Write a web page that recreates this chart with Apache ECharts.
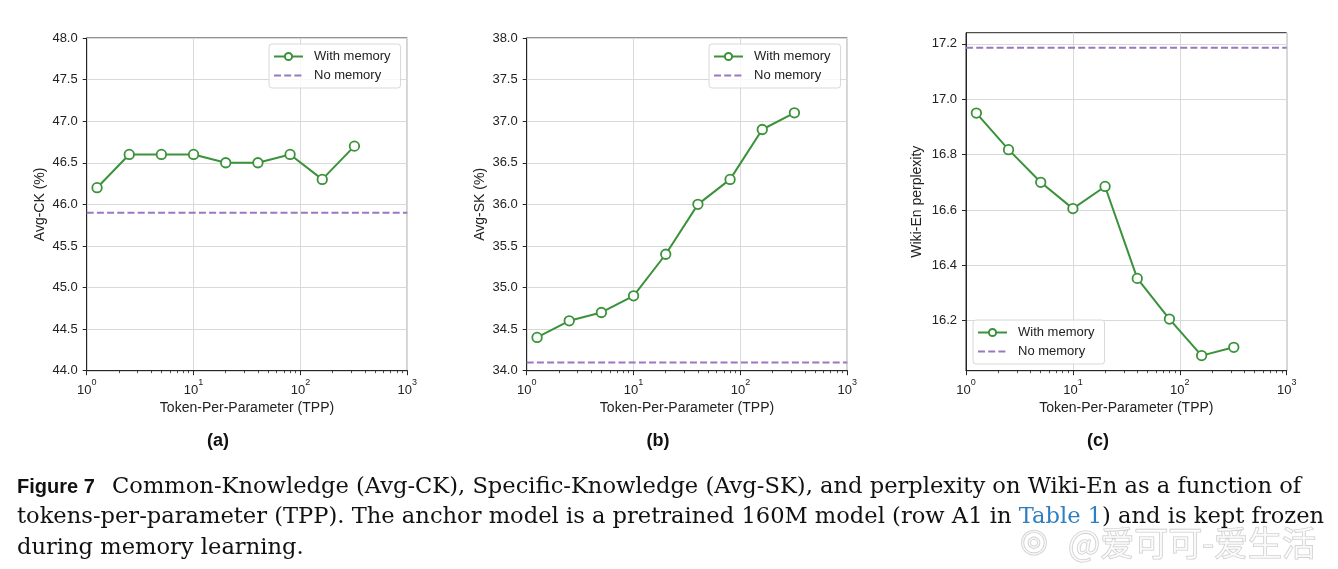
<!DOCTYPE html>
<html>
<head>
<meta charset="utf-8">
<script src="https://cdn.jsdelivr.net/npm/echarts@6/dist/echarts.min.js"></script>
<style>
html,body{margin:0;padding:0;background:#fff;}
#main{width:1338px;height:569px;}
</style>
</head>
<body>
<div id="main"></div>
<script>
// ---- data ----
const tpp = [1.25, 2.5, 5, 10, 20, 40, 80, 160, 320];
const avgCK = [46.2, 46.6, 46.6, 46.6, 46.5, 46.5, 46.6, 46.3, 46.7];
const avgSK = [34.4, 34.6, 34.7, 34.9, 35.4, 36.0, 36.3, 36.9, 37.1];
const wikiPpl = [16.95, 16.818, 16.70, 16.605, 16.685, 16.353, 16.206, 16.074, 16.104];
const noMemory = [45.9, 34.1, 17.186];
const xRange = [1, 1000];
const yRanges = [[44, 48], [34, 38], [16.0195, 17.2405]];
const yTicksPpl = [16.2, 16.4, 16.6, 16.8, 17.0, 17.2];
const minorMult = [2, 3, 4, 5, 6, 7, 8, 9];
const decades = [1, 10, 100];
const yNames = ['Avg-CK (%)', 'Avg-SK (%)', 'Wiki-En perplexity'];
const panelLabels = ['(a)', '(b)', '(c)'];
const seriesNames = ['With memory', 'No memory'];

const panels = [avgCK, avgSK, wikiPpl];

const GREEN = '#3a923a';
const PURPLE = '#9a78c0';
const INK = '#262626';
const FONT = 'Liberation Sans';

const grids = [
  {left: 86.7, top: 38, width: 320.6, height: 332.7},
  {left: 526.7, top: 38, width: 320.6, height: 332.7},
  {left: 966, top: 32.7, width: 320.7, height: 338}
];
const labelX = [218, 658, 1098];
const legendPos = [[269, 44], [709, 44], [973, 320]];

const minorTicks = [];
decades.forEach(d => minorMult.forEach(m => minorTicks.push(Math.log10(m * d))));

const option = {
  animation: false,
  backgroundColor: '#fff',
  grid: grids.map(g => Object.assign({show: true, borderColor: INK, borderWidth: 1, backgroundColor: 'transparent'}, g)),
  xAxis: [],
  yAxis: [],
  legend: [],
  series: [],
  graphic: []
};

for (let i = 0; i < 3; i++) {
  option.xAxis.push({
    type: 'log', logBase: 10, gridIndex: i, position: 'bottom',
    min: xRange[0], max: xRange[1],
    name: 'Token-Per-Parameter (TPP)', nameLocation: 'middle', nameGap: 30,
    nameTextStyle: {fontFamily: FONT, fontSize: 14, color: '#222'},
    axisLine: {show: true, onZero: false, lineStyle: {color: INK, width: 1}},
    axisTick: {show: true, inside: false, length: 4.5, lineStyle: {color: INK, width: 1}},
    splitLine: {show: true, lineStyle: {color: '#d9d9d9', width: 1}},
    axisLabel: {
      margin: 7,
      formatter: v => '{b|10}{s|' + Math.round(Math.log10(v)) + '}',
      rich: {
        b: {fontFamily: FONT, fontSize: 13, color: '#222', lineHeight: 19, verticalAlign: 'bottom'},
        s: {fontFamily: FONT, fontSize: 9, color: '#222', lineHeight: 9, verticalAlign: 'top'}
      }
    }
  });
  // minor ticks axis (decorative)
  option.xAxis.push({
    type: 'value', gridIndex: i, position: 'bottom', min: 0, max: 3,
    axisLine: {show: false, onZero: false},
    axisLabel: {show: false},
    splitLine: {show: false},
    axisTick: {show: true, inside: false, length: 2.5, customValues: minorTicks, lineStyle: {color: INK, width: 0.8}}
  });
  const yAxis = {
    type: 'value', gridIndex: i,
    min: yRanges[i][0], max: yRanges[i][1],
    name: yNames[i], nameLocation: 'middle', nameGap: i === 2 ? 42 : 40,
    nameTextStyle: {fontFamily: FONT, fontSize: 14, color: '#222'},
    axisLine: {show: true, onZero: false, lineStyle: {color: INK, width: 1}},
    axisTick: {show: true, inside: false, length: 4, lineStyle: {color: INK, width: 1}},
    splitLine: {show: true, lineStyle: {color: '#d9d9d9', width: 1}},
    axisLabel: {fontFamily: FONT, fontSize: 13, color: '#222', margin: 9,
      formatter: v => v.toFixed(1)}
  };
  if (i < 2) {
    yAxis.interval = 0.5;
  } else {
    yAxis.axisTick.customValues = yTicksPpl;
    yAxis.axisLabel.customValues = yTicksPpl;
  }
  option.yAxis.push(yAxis);

  option.series.push({
    name: seriesNames[1], type: 'line', xAxisIndex: 2 * i, yAxisIndex: i,
    data: xRange.map(x => [x, noMemory[i]]),
    symbol: 'none', z: 2,
    lineStyle: {color: PURPLE, width: 2, type: [7, 3.2]},
    itemStyle: {color: PURPLE, opacity: 0}
  });
  option.series.push({
    name: seriesNames[0], type: 'line', xAxisIndex: 2 * i, yAxisIndex: i,
    data: tpp.map((x, k) => [x, panels[i][k]]),
    symbol: 'circle', symbolSize: 9.5, z: 3,
    lineStyle: {color: GREEN, width: 2},
    itemStyle: {color: '#fff', borderColor: GREEN, borderWidth: 1.8}
  });

  option.legend.push({
    orient: 'vertical',
    data: seriesNames.slice(),
    left: legendPos[i][0], top: legendPos[i][1],
    itemWidth: 29, itemHeight: 9, itemGap: 6,
    padding: [6, 10, 6, 4],
    backgroundColor: 'rgba(255,255,255,0.8)',
    borderColor: '#d9d9d9', borderWidth: 1, borderRadius: 3,
    textStyle: {fontFamily: FONT, fontSize: 13, color: '#222', padding: [0, 0, 0, 6]}
  });

  option.graphic.push({
    type: 'text', x: labelX[i], y: 441,
    style: {text: panelLabels[i], fontFamily: FONT, fontWeight: 'bold', fontSize: 18,
      fill: '#111', align: 'center', verticalAlign: 'middle'}
  });
}

// caption
const SERIF = 'DejaVu Serif';
const CS = 22.6;
option.graphic.push(
  {type: 'text', x: 17, y: 487, style: {text: 'Figure 7', fontFamily: FONT, fontWeight: 'bold', fontSize: 20, fill: '#111', verticalAlign: 'middle'}},
  {type: 'text', x: 112, y: 487, style: {text: 'Common-Knowledge (Avg-CK), Specific-Knowledge (Avg-SK), and perplexity on Wiki-En as a function of', fontFamily: SERIF, fontSize: CS, fill: '#111', verticalAlign: 'middle'}},
  {type: 'text', x: 17, y: 517, style: {
    text: '{t|tokens-per-parameter (TPP). The anchor model is a pretrained 160M model (row A1 in }{l|Table 1}{t|) and is kept frozen}',
    verticalAlign: 'middle',
    rich: {
      t: {fontFamily: SERIF, fontSize: CS, fill: '#111'},
      l: {fontFamily: SERIF, fontSize: CS, fill: '#2f7fc0'}
    }}},
  {type: 'text', x: 17, y: 548, style: {text: 'during memory learning.', fontFamily: SERIF, fontSize: CS, fill: '#111', verticalAlign: 'middle'}},
  {type: 'text', x: 1020, y: 543, style: {text: '◎', fontFamily: 'DejaVu Sans', fontSize: 32,
    fill: 'rgba(255,255,255,0.6)', stroke: 'rgba(160,160,160,0.55)', lineWidth: 1.2, verticalAlign: 'middle'}},
  {type: 'text', x: 1068, y: 543, style: {text: '@爱可可-爱生活', fontFamily: 'Noto Sans CJK SC', fontSize: 34,
    fill: 'rgba(255,255,255,0.6)', stroke: 'rgba(160,160,160,0.55)', lineWidth: 1.2, verticalAlign: 'middle'}}
);

const chart = echarts.init(document.getElementById('main'), null, {renderer: 'canvas'});
chart.setOption(option);
</script>
</body>
</html>
